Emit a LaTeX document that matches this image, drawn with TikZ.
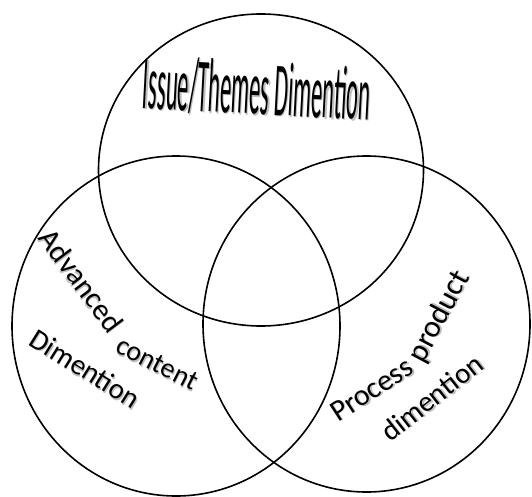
\documentclass[tikz,border=0pt]{standalone}
\usepackage{fontspec}
\usepackage{graphicx}
\usepackage{tikz}
\usetikzlibrary{shapes.geometric}
\newfontfamily\wordart{Carlito}
\newcommand{\shadowed}[1]{\rlap{\kern1.3pt\raisebox{-1.3pt}{\textcolor{black!25}{#1}}}#1}

\begin{document}
\begin{tikzpicture}[
  x=1pt, y=-1pt,
  set/.style={ellipse,draw,line width=1.6pt,inner sep=0pt},
  word/.style={inner sep=0pt,font=\wordart\fontsize{29}{31}\selectfont}
]
  \useasboundingbox (0,0) rectangle (532,497);
  \node[set,minimum width=325pt,minimum height=312pt] (issue) at (261,170) {};
  \node[set,minimum width=328pt,minimum height=340pt] (content) at (176,326) {};
  \node[set,minimum width=327pt,minimum height=336pt] (process) at (366.5,324) {};

  \node[word,font=\wordart\fontsize{22.5}{24}\selectfont,rotate=-3] (issuelbl) at (257,90)
    {\shadowed{\scalebox{1}[3.4]{Issue/Themes Dimention}}};
  \node[word,font=\wordart\fontsize{30}{32}\selectfont,rotate=-53] (advanced) at (81,281) {\shadowed{Advanced}};
  \node[word,font=\wordart\fontsize{28}{30}\selectfont,rotate=-27] (contentlbl) at (157,364) {\shadowed{content}};
  \node[word,rotate=-32] (dimleft) at (85,369) {\shadowed{Dimention}};
  \node[word,font=\wordart\fontsize{30}{32}\selectfont,rotate=33] (processlbl) at (372,390) {\shadowed{Process}};
  \node[word,font=\wordart\fontsize{31}{33}\selectfont,rotate=62] (product) at (440,317) {\shadowed{product}};
  \node[word,rotate=38] (dimright) at (432,398) {\shadowed{dimention}};
\end{tikzpicture}
\end{document}
